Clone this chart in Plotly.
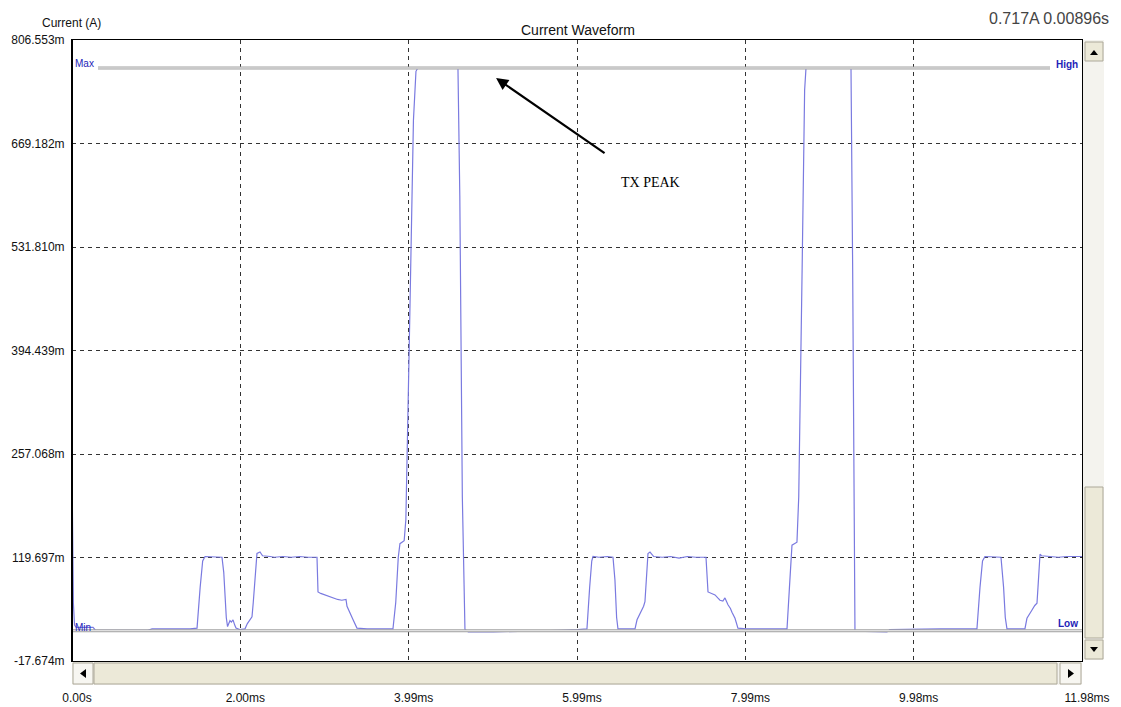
import plotly.graph_objects as go

# ---------------- data (time in ms, current in mA) ----------------
time_ms = [
    0.000, 0.008, 0.016, 0.030, 0.050, 0.250, 0.280, 0.900, 0.950, 1.400, 1.450,
    1.483, 1.520, 1.550, 1.578, 1.650, 1.700, 1.779, 1.800, 1.830, 1.845, 1.874, 1.890,
    1.910, 1.930, 1.945, 1.990, 2.052, 2.080, 2.110, 2.135, 2.150, 2.180, 2.194, 2.230,
    2.260, 2.350, 2.400, 2.500, 2.600, 2.700, 2.800, 2.906, 2.918, 2.950, 3.000, 3.050,
    3.100, 3.150, 3.200, 3.250, 3.262, 3.290, 3.330, 3.380, 3.500, 3.807, 3.840, 3.870,
    3.890, 3.940, 3.960, 4.000, 4.050, 4.080, 4.100, 4.365, 4.500, 4.578, 4.600, 4.630,
    4.661, 4.700, 5.000, 5.500, 5.790, 6.000, 6.108,
    6.140, 6.165, 6.180, 6.250, 6.350, 6.417, 6.440, 6.460, 6.476, 6.678, 6.702, 6.730,
    6.761, 6.780, 6.796, 6.810, 6.832, 6.856, 6.900, 7.000, 7.100, 7.200, 7.300, 7.400,
    7.520, 7.544, 7.580, 7.627, 7.660, 7.686, 7.720, 7.745, 7.781, 7.810, 7.828, 7.864,
    7.899, 8.000, 8.300, 8.481, 8.510, 8.540, 8.599, 8.620, 8.660, 8.690, 8.706, 9.204,
    9.240, 9.260, 9.275, 9.287, 9.667, 9.700, 10.300, 10.734,
    10.770, 10.800, 10.829, 10.900, 11.019, 11.050, 11.070, 11.090, 11.303, 11.327,
    11.350, 11.387, 11.420, 11.446, 11.458, 11.482, 11.500, 11.600, 11.700, 11.800, 11.980,
]
current_mA = [
    238, 140, 60, 30, 27, 27, 23, 23, 25, 25, 26,
    26, 80, 115, 121, 121, 120, 120, 100, 40, 28, 36, 34,
    37, 30, 26, 24, 25, 32, 37, 41, 60, 110, 125, 127,
    122, 121, 120, 121, 120, 121, 120, 120, 74, 72, 70, 67,
    65, 64, 63, 64, 55, 47, 38, 26, 25, 25, 60, 120,
    138, 142, 170, 400, 700, 765, 769, 769, 769, 769, 600, 200,
    24, 21, 21, 22, 23, 24, 25,
    80, 115, 121, 120, 121, 120, 90, 40, 25, 25, 37, 43,
    50, 55, 61, 90, 125, 127, 121, 120, 121, 119, 121, 120,
    120, 74, 72, 70, 66, 63, 62, 66, 57, 52, 47, 39,
    26, 25, 25, 25, 80, 136, 140, 200, 500, 740, 769, 769,
    769, 500, 120, 22, 21, 24, 25, 25,
    80, 115, 121, 121, 120, 80, 40, 25, 25, 39,
    44, 50, 56, 59, 80, 124, 122, 121, 120, 121, 121,
]

x_ticks = [0.0, 1.9967, 3.9933, 5.99, 7.9867, 9.9833, 11.98]
x_tick_labels = ["0.00s", "2.00ms", "3.99ms", "5.99ms", "7.99ms", "9.98ms", "11.98ms"]
y_ticks = [806.553, 669.182, 531.810, 394.439, 257.068, 119.697, -17.674]
y_tick_labels = ["806.553m", "669.182m", "531.810m", "394.439m", "257.068m", "119.697m", "-17.674m"]

max_level = 769.4
min_level = 22.5
readout = "0.717A 0.00896s"

# ---------------- geometry (screen pixels; page body adds an 8px offset) ----------------
OFF = 8
FIG_W, FIG_H = 1121 - OFF, 707 - OFF
L, R, T, B = 72, 1082, 40, 661
W, H = R - L, B - T


def px(x):
    return (x - L) / W


def py(y):
    return (B - y) / H


fig = go.Figure()
fig.add_trace(go.Scatter(
    x=time_ms, y=current_mA, mode="lines",
    line=dict(color="#7a7ae0", width=1.2),
    hoverinfo="skip", showlegend=False,
))

shapes = []
# Max / Min double grey lines
for lvl, x0, x1 in [(max_level, px(98), px(1050)), (min_level, 0, 1)]:
    shapes.append(dict(type="line", xref="paper", yref="y", x0=x0, x1=x1, y0=lvl, y1=lvl,
                       line=dict(color="#a2a2a2", width=3), layer="above"))
    shapes.append(dict(type="line", xref="paper", yref="y", x0=x0, x1=x1, y0=lvl, y1=lvl,
                       line=dict(color="#f0f0f0", width=1), layer="above"))

# left axis thicker
shapes.append(dict(type="line", xref="paper", yref="paper", x0=0, x1=0, y0=0, y1=1,
                   line=dict(color="black", width=2)))

face = "#ece9d8"
edge = "#aca899"
track = "#f4f3ee"
# vertical scrollbar
shapes.append(dict(type="rect", xref="paper", yref="paper", x0=px(1083), x1=px(1104),
                   y0=py(660), y1=py(40), fillcolor=track, line=dict(width=0), layer="below"))
for y0, y1 in [(42, 61), (487, 638), (640, 659)]:
    shapes.append(dict(type="rect", xref="paper", yref="paper", x0=px(1085), x1=px(1103),
                       y0=py(y1), y1=py(y0), fillcolor=face, line=dict(color=edge, width=1)))
# up / down arrows
shapes.append(dict(type="path", xref="paper", yref="paper",
                   path=f"M {px(1090)},{py(55)} L {px(1098)},{py(55)} L {px(1094)},{py(50)} Z",
                   fillcolor="black", line=dict(width=0)))
shapes.append(dict(type="path", xref="paper", yref="paper",
                   path=f"M {px(1090)},{py(647)} L {px(1098)},{py(647)} L {px(1094)},{py(652)} Z",
                   fillcolor="black", line=dict(width=0)))
# horizontal scrollbar
shapes.append(dict(type="rect", xref="paper", yref="paper", x0=px(72), x1=px(1082),
                   y0=py(685), y1=py(662), fillcolor=track, line=dict(width=0), layer="below"))
for x0, x1, fc in [(73, 93, "#f7f6f1"), (94, 1057, face), (1060, 1081, "#f7f6f1")]:
    shapes.append(dict(type="rect", xref="paper", yref="paper", x0=px(x0), x1=px(x1),
                       y0=py(684), y1=py(663), fillcolor=fc, line=dict(color=edge, width=1)))
shapes.append(dict(type="path", xref="paper", yref="paper",
                   path=f"M {px(86)},{py(669)} L {px(86)},{py(678)} L {px(80)},{py(673.5)} Z",
                   fillcolor="black", line=dict(width=0)))
shapes.append(dict(type="path", xref="paper", yref="paper",
                   path=f"M {px(1068)},{py(669)} L {px(1068)},{py(678)} L {px(1074)},{py(673.5)} Z",
                   fillcolor="black", line=dict(width=0)))

label_font = dict(family="Liberation Sans, Arial, sans-serif", size=10, color="#2323b8")
annotations = [
    dict(text="Current Waveform", xref="paper", yref="paper", x=px(578), y=py(30),
         showarrow=False, font=dict(family="Liberation Sans, Arial", size=14, color="#111"),
         xanchor="center", yanchor="middle"),
    dict(text="Current (A)", xref="paper", yref="paper", x=px(40), y=py(23),
         showarrow=False, font=dict(family="Liberation Sans, Arial", size=12, color="#111"),
         xanchor="left", yanchor="middle"),
    dict(text=readout, xref="paper", yref="paper", x=px(1111), y=py(18),
         showarrow=False, font=dict(family="Liberation Sans Narrow, Liberation Sans, Arial", size=16, color="#444"),
         xanchor="right", yanchor="middle"),
    dict(text="Max", xref="paper", yref="y", x=px(73), y=max_level, showarrow=False,
         font=label_font, xanchor="left", yanchor="bottom", yshift=-3),
    dict(text="<b>High</b>", xref="paper", yref="y", x=px(1080), y=max_level, showarrow=False,
         font=label_font, xanchor="right", yanchor="middle", yshift=3),
    dict(text="Min", xref="paper", yref="y", x=px(73), y=min_level, showarrow=False,
         font=label_font, xanchor="left", yanchor="middle", yshift=3),
    dict(text="<b>Low</b>", xref="paper", yref="y", x=px(1080), y=min_level, showarrow=False,
         font=label_font, xanchor="right", yanchor="middle", yshift=7),
    dict(text="TX PEAK", x=6.856, y=618, xref="x", yref="y", showarrow=False,
         font=dict(family="Liberation Serif, Times New Roman, serif", size=14, color="black"),
         xanchor="center", yanchor="middle"),
    dict(text="", x=5.03, y=756, xref="x", yref="y", ax=110, ay=76,
         showarrow=True, arrowhead=2, arrowsize=1.1, arrowwidth=2.2, arrowcolor="black"),
]

grid = dict(showgrid=True, gridcolor="#333333", gridwidth=1, griddash="4px,4px",
            zeroline=False, showline=True, mirror=True, linecolor="black", linewidth=1,
            automargin=False)
tick_font = dict(family="Liberation Sans, Arial, sans-serif", size=12, color="#111")

fig.update_layout(
    width=FIG_W, height=FIG_H,
    margin=dict(l=L - OFF, r=FIG_W - (R - OFF), t=T - OFF, b=FIG_H - (B - OFF), autoexpand=False),
    paper_bgcolor="white", plot_bgcolor="white",
    showlegend=False,
    shapes=shapes, annotations=annotations,
    xaxis=dict(range=[0, 11.98], tickvals=x_ticks, ticktext=x_tick_labels,
               tickfont=tick_font, ticks="", ticklabelstandoff=26, ticklabelshift=5, **grid),
    yaxis=dict(range=[-17.674, 806.553], tickvals=y_ticks, ticktext=y_tick_labels,
               tickfont=tick_font, ticks="", ticklabelstandoff=4, **grid),
)

fig.write_html("out.html")
